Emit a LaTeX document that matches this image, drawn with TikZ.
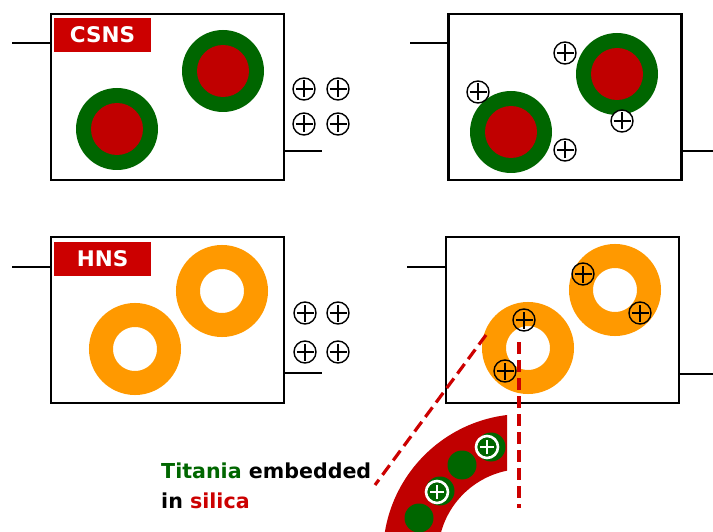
\documentclass[tikz,border=0pt]{standalone}
\usepackage{fontspec}
\setmainfont{DejaVu Sans}
\definecolor{boxred}{HTML}{CC0000}
\definecolor{corered}{HTML}{C00000}
\definecolor{shellgreen}{HTML}{006600}
\definecolor{ringorange}{HTML}{FF9900}
\begin{document}
\begin{tikzpicture}[x=1pt,y=-1pt,
  frame/.style={draw=black,line width=2.8pt,minimum width=233pt,minimum height=166pt,inner sep=0pt},
  wire/.style={draw=black,line width=2.8pt},
  tag/.style={fill=boxred,minimum width=97pt,minimum height=34pt,inner sep=0pt,
    text=white,font=\bfseries\fontsize{21.5}{24}\selectfont},
  shell/.style={circle,fill=shellgreen,minimum size=82pt,inner sep=0pt},
  core/.style={circle,fill=corered,minimum size=52pt,inner sep=0pt},
  hollow/.style={draw=ringorange,line width=24pt,circle,minimum size=68pt,inner sep=0pt},
  ion/.style={circle,draw=black,line width=1.4pt,minimum size=22pt,inner sep=0pt,
    path picture={
      \draw[line width=2.6pt,black]
        ([xshift=-8.5pt]path picture bounding box.center) -- ([xshift=8.5pt]path picture bounding box.center)
        ([yshift=-8.5pt]path picture bounding box.center) -- ([yshift=8.5pt]path picture bounding box.center);}},
  whiteion/.style={ion,fill=white},
  dot/.style={circle,fill=shellgreen,minimum size=29pt,inner sep=0pt},
  dotion/.style={circle,draw=white,fill=shellgreen,line width=2.6pt,minimum size=22pt,inner sep=0pt,
    path picture={
      \draw[line width=2.4pt,white]
        ([xshift=-7pt]path picture bounding box.center) -- ([xshift=7pt]path picture bounding box.center)
        ([yshift=-7pt]path picture bounding box.center) -- ([yshift=7pt]path picture bounding box.center);}},
  zoomline/.style={draw=boxred,line width=3.2pt,dash pattern=on 12pt off 6pt},
  caption/.style={anchor=base west,inner sep=0pt,font=\bfseries\fontsize{20.6}{24}\selectfont}
]
\useasboundingbox (0,0) rectangle (713,532);

% ---- core-shell nanospheres, before charging ----
\node[frame] (f1) at (167.5,97) {};
\coordinate (w1a) at (12,43);
\coordinate (w1b) at (322,151);
\draw[wire] (w1a) -- (w1a -| f1.west);
\draw[wire] (f1.east |- w1b) -- (w1b);
\node[tag] (t1) at (102.5,35) {CSNS};
\node[shell] (s1a) at (117,129) {};
\node[core] (c1a) at (s1a) {};
\node[shell] (s1b) at (223,71) {};
\node[core] (c1b) at (s1b) {};
\node[ion] (i1a) at (304,89) {};
\node[ion] (i1b) at (338,89) {};
\node[ion] (i1c) at (304,124) {};
\node[ion] (i1d) at (338,124) {};

% ---- core-shell nanospheres, after charging ----
\node[frame] (f2) at (565,97) {};
\coordinate (w2a) at (410,43);
\coordinate (w2b) at (713,151);
\draw[wire] (w2a) -- (w2a -| f2.west);
\draw[wire] (f2.east |- w2b) -- (w2b);
\node[shell] (s2a) at (511,132) {};
\node[core] (c2a) at (s2a) {};
\node[shell] (s2b) at (617,74) {};
\node[core] (c2b) at (s2b) {};
\node[whiteion] (i2a) at (565,53) {};
\node[whiteion] (i2b) at (478,92) {};
\node[whiteion] (i2c) at (622,121) {};
\node[whiteion] (i2d) at (565,150) {};

% ---- hollow nanospheres, before charging ----
\node[frame] (f3) at (167.5,320) {};
\coordinate (w3a) at (12,267);
\coordinate (w3b) at (322,373);
\draw[wire] (w3a) -- (w3a -| f3.west);
\draw[wire] (f3.east |- w3b) -- (w3b);
\node[tag] (t3) at (102.5,259) {HNS};
\node[hollow] (h3a) at (135,349) {};
\node[hollow] (h3b) at (222,291) {};
\node[ion] (i3a) at (305,313) {};
\node[ion] (i3b) at (338,313) {};
\node[ion] (i3c) at (305,352) {};
\node[ion] (i3d) at (338,352) {};

% ---- hollow nanospheres, after charging ----
\node[frame] (f4) at (562.5,320) {};
\coordinate (w4a) at (407,267);
\coordinate (w4b) at (713,374);
\draw[wire] (w4a) -- (w4a -| f4.west);
\draw[wire] (f4.east |- w4b) -- (w4b);
\node[hollow] (h4a) at (528,348) {};
\node[hollow] (h4b) at (615,290) {};
\node[ion] (i4a) at (583,274) {};
\node[ion] (i4b) at (640,313) {};
\node[ion] (i4c) at (524,320) {};
\node[ion] (i4d) at (505,371) {};

% ---- magnified piece of the hollow shell ----
\begin{scope}
  \clip (370,400) rectangle (507,532);
  \fill[corered,even odd rule] (524,555) circle[radius=141pt] (524,555) circle[radius=86pt];
\end{scope}
\node[dot] (d1) at (491,447) {};
\node[dotion] (e1) at (487,447) {};
\node[dot] (d2) at (462,465) {};
\node[dot] (d3) at (440,491) {};
\node[dotion] (e3) at (437,492) {};
\node[dot] (d4) at (419,518) {};

% zoom guide lines
\coordinate (g1a) at (486,335);
\coordinate (g1b) at (375,485);
\coordinate (g2a) at (519,342);
\coordinate (g2b) at (519,508);
\draw[zoomline] (g1a) -- (g1b);
\draw[zoomline] (g2a) -- (g2b);

% caption
\node[caption] (cap1) at (161,478) {\textcolor{shellgreen}{Titania} embedded};
\node[caption] (cap2) at (161,508) {in \textcolor{boxred}{silica}};
\end{tikzpicture}
\end{document}
